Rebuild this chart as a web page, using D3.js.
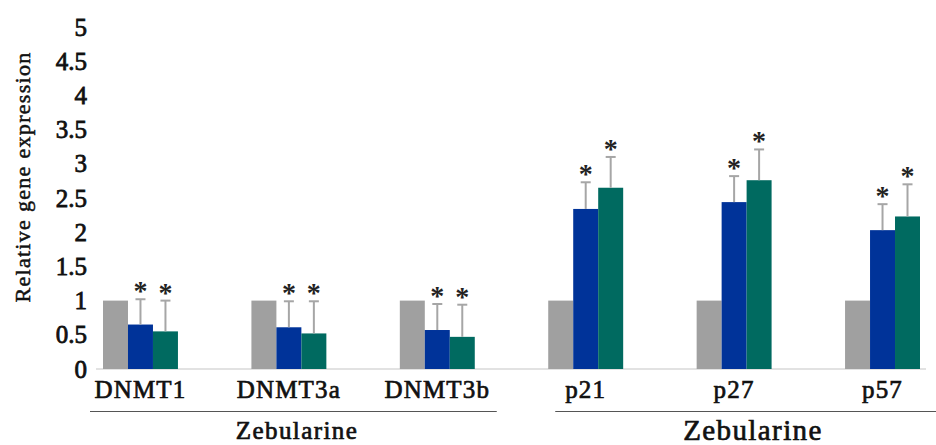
<!DOCTYPE html>
<html>
<head>
<meta charset="utf-8">
<script src="https://cdn.jsdelivr.net/npm/d3@7"></script>
<style>
  body { margin: 0; background: #fff; }
  svg { display: block; }
</style>
</head>
<body>
<svg id="chart"></svg>
<script>
// chart values
var genes = ['DNMT1', 'DNMT3a', 'DNMT3b', 'p21', 'p27', 'p57'];
var control = [1, 1, 1, 1, 1, 1];
var dose1 = [0.65, 0.61, 0.57, 2.34, 2.44, 2.03];
var dose1Err = [0.37, 0.38, 0.38, 0.39, 0.38, 0.38];
var dose2 = [0.55, 0.52, 0.47, 2.65, 2.76, 2.23];
var dose2Err = [0.45, 0.47, 0.47, 0.45, 0.45, 0.47];
var yTicks = [0, 0.5, 1, 1.5, 2, 2.5, 3, 3.5, 4, 4.5, 5];
var groups = [
  { label: 'Zebularine', from: 'DNMT1', to: 'DNMT3b' },
  { label: 'Zebularine', from: 'p21', to: 'p57' }
];

var W = 936, H = 445;
var serif = '"Liberation Serif", "Times New Roman", serif';
var ink = '#111';

var svg = d3.select('#chart').attr('width', W).attr('height', H);

var x = d3.scaleBand()
  .domain(genes)
  .range([103, 920])
  .paddingInner(0.495)
  .paddingOuter(0);

var series = ['control', 'dose1', 'dose2'];
var xs = d3.scaleBand().domain(series).range([0, x.bandwidth()]);

var y = d3.scaleLinear().domain([0, 5]).range([369, 27]);

var colors = { control: '#a0a0a0', dose1: '#003399', dose2: '#006a60' };

// thicken the thin serif a little, like the blurred original
function inked(sel, w) {
  sel.attr('fill', ink).attr('stroke', ink).attr('stroke-width', w || 0.6);
}

// y axis (labels only)
var yAxis = svg.append('g')
  .attr('transform', 'translate(87,0)')
  .call(d3.axisLeft(y).tickValues(yTicks).tickSize(0).tickPadding(0)
    .tickFormat(function(d) { return String(d); }));
yAxis.select('.domain').remove();
yAxis.selectAll('text')
  .attr('font-family', serif)
  .attr('font-size', 25)
  .call(inked, 0.8);

svg.append('text')
  .attr('transform', 'translate(30,177) rotate(-90)')
  .attr('text-anchor', 'middle')
  .attr('font-family', serif)
  .attr('font-size', 22)
  .attr('letter-spacing', 1.3)
  .call(inked, 0.5)
  .text('Relative gene expression');

// baseline
svg.append('line')
  .attr('x1', 96).attr('x2', 926)
  .attr('y1', y(0)).attr('y2', y(0))
  .attr('stroke', '#d9d9d9')
  .attr('stroke-width', 1.5);

var rows = genes.map(function(g, i) {
  return {
    gene: g,
    control: control[i],
    dose1: dose1[i], dose1Err: dose1Err[i],
    dose2: dose2[i], dose2Err: dose2Err[i]
  };
});

var gGenes = svg.append('g').selectAll('g')
  .data(rows)
  .enter()
  .append('g')
  .attr('transform', function(d) { return 'translate(' + x(d.gene) + ',0)'; });

gGenes.selectAll('rect')
  .data(function(d) {
    return series.map(function(s) { return { key: s, value: d[s] }; });
  })
  .enter()
  .append('rect')
  .attr('x', function(d) { return xs(d.key); })
  .attr('width', xs.bandwidth())
  .attr('y', function(d) { return y(d.value); })
  .attr('height', function(d) { return y(0) - y(d.value); })
  .attr('fill', function(d) { return colors[d.key]; });

// error bars + asterisks for the treated series
var errs = gGenes.selectAll('g.err')
  .data(function(d) {
    return [
      { key: 'dose1', value: d.dose1, err: d.dose1Err },
      { key: 'dose2', value: d.dose2, err: d.dose2Err }
    ];
  })
  .enter()
  .append('g')
  .attr('class', 'err')
  .attr('transform', function(d) { return 'translate(' + (xs(d.key) + xs.bandwidth() / 2) + ',0)'; });

errs.append('line')
  .attr('x1', 0).attr('x2', 0)
  .attr('y1', function(d) { return y(d.value); })
  .attr('y2', function(d) { return y(d.value + d.err); })
  .attr('stroke', '#a6a6a6')
  .attr('stroke-width', 2);

errs.append('line')
  .attr('x1', -5).attr('x2', 5)
  .attr('y1', function(d) { return y(d.value + d.err); })
  .attr('y2', function(d) { return y(d.value + d.err); })
  .attr('stroke', '#a6a6a6')
  .attr('stroke-width', 2);

errs.append('text')
  .attr('text-anchor', 'middle')
  .attr('x', 0)
  .attr('y', function(d) { return y(d.value + d.err) + 1; })
  .attr('font-family', serif)
  .attr('font-weight', 'bold')
  .attr('font-size', 28)
  .attr('fill', '#222')
  .text('*');

// gene labels
svg.append('g').selectAll('text')
  .data(genes)
  .enter()
  .append('text')
  .attr('x', function(d) { return x(d) + x.bandwidth() / 2; })
  .attr('y', 398)
  .attr('text-anchor', 'middle')
  .attr('font-family', serif)
  .attr('font-size', 25)
  .attr('letter-spacing', 1.2)
  .call(inked, 0.7)
  .text(function(d) { return d; });

// group brackets
var gb = svg.append('g').selectAll('g')
  .data(groups)
  .enter()
  .append('g');

gb.append('line')
  .attr('x1', function(d, i) { return i === 1 ? x(d.from) + 7 : x(d.from) - 13; })
  .attr('x2', function(d, i) { return i === 1 ? W : x(d.to) + x.bandwidth() + 22; })
  .attr('y1', 411.5).attr('y2', 411.5)
  .attr('stroke', '#555')
  .attr('stroke-width', 1.2);

gb.append('text')
  .attr('x', function(d, i) { return i === 1 ? 753 : 297; })
  .attr('y', function(d, i) { return i === 1 ? 440 : 439; })
  .attr('text-anchor', 'middle')
  .attr('font-family', serif)
  .attr('font-size', function(d, i) { return i === 1 ? 29 : 25; })
  .attr('letter-spacing', 1.4)
  .call(inked, 0.7)
  .text(function(d) { return d.label; });
</script>
</body>
</html>
